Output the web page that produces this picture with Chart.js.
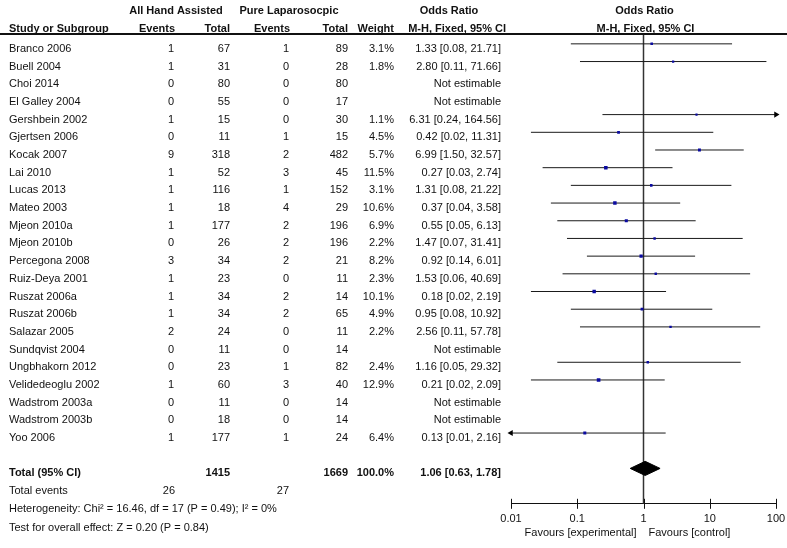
<!DOCTYPE html>
<html>
<head>
<meta charset="utf-8">
<script src="https://cdn.jsdelivr.net/npm/chart.js@4.4.1/dist/chart.umd.min.js"></script>
<style>
    html, body { margin: 0; padding: 0; background: #fff; }
    #wrap { width: 787px; height: 548px; }
</style>
</head>
<body>
<div id="wrap"><canvas id="forest" width="787" height="548"></canvas></div>
<script>
const studies = [
    "Branco 2006", "Buell 2004", "Choi 2014", "El Galley 2004", "Gershbein 2002",
    "Gjertsen 2006", "Kocak 2007", "Lai 2010", "Lucas 2013", "Mateo 2003",
    "Mjeon 2010a", "Mjeon 2010b", "Percegona 2008", "Ruiz-Deya 2001", "Ruszat 2006a",
    "Ruszat 2006b", "Salazar 2005", "Sundqvist 2004", "Ungbhakorn 2012", "Velidedeoglu 2002",
    "Wadstrom 2003a", "Wadstrom 2003b", "Yoo 2006"
];
const haEvents = [1, 1, 0, 0, 1, 0, 9, 1, 1, 1, 1, 0, 3, 1, 1, 1, 2, 0, 0, 1, 0, 0, 1];
const haTotal = [67, 31, 80, 55, 15, 11, 318, 52, 116, 18, 177, 26, 34, 23, 34, 34, 24, 11, 23, 60, 11, 18, 177];
const plEvents = [1, 0, 0, 0, 0, 1, 2, 3, 1, 4, 2, 2, 2, 0, 2, 2, 0, 0, 1, 3, 0, 0, 1];
const plTotal = [89, 28, 80, 17, 30, 15, 482, 45, 152, 29, 196, 196, 21, 11, 14, 65, 11, 14, 82, 40, 14, 14, 24];
const weights = [3.1, 1.8, null, null, 1.1, 4.5, 5.7, 11.5, 3.1, 10.6, 6.9, 2.2, 8.2, 2.3, 10.1, 4.9, 2.2, null, 2.4, 12.9, null, null, 6.4];
const oddsRatio = [1.33, 2.80, null, null, 6.31, 0.42, 6.99, 0.27, 1.31, 0.37, 0.55, 1.47, 0.92, 1.53, 0.18, 0.95, 2.56, null, 1.16, 0.21, null, null, 0.13];
const ciLow = [0.08, 0.11, null, null, 0.24, 0.02, 1.50, 0.03, 0.08, 0.04, 0.05, 0.07, 0.14, 0.06, 0.02, 0.08, 0.11, null, 0.05, 0.02, null, null, 0.01];
const ciHigh = [21.71, 71.66, null, null, 164.56, 11.31, 32.57, 2.74, 21.22, 3.58, 6.13, 31.41, 6.01, 40.69, 2.19, 10.92, 57.78, null, 29.32, 2.09, null, null, 2.16];

const totalHa = 1415;
const totalPl = 1669;
const totalEventsHa = 26;
const totalEventsPl = 27;
const pooledOR = 1.06;
const pooledLow = 0.63;
const pooledHigh = 1.78;
const xTicks = [0.01, 0.1, 1, 10, 100];

const heterogeneityText = "Heterogeneity: Chi\u00b2 = 16.46, df = 17 (P = 0.49); I\u00b2 = 0%";
const overallText = "Test for overall effect: Z = 0.20 (P = 0.84)";

const FONT = '"Liberation Sans", Arial, sans-serif';
const INK = "#111";
const X_MIN = xTicks[0];
const X_MAX = xTicks[xTicks.length - 1];
const TOTAL_ROW = studies.length + 1;

function orText(i) {
    if (oddsRatio[i] == null) return "Not estimable";
    return `${oddsRatio[i].toFixed(2)} [${ciLow[i].toFixed(2)}, ${ciHigh[i].toFixed(2)}]`;
}

// one little line per study for its CI
const ciSets = [];
const arrowPts = [];
studies.forEach((s, i) => {
    if (oddsRatio[i] == null) return;
    const lo = Math.max(ciLow[i], X_MIN);
    const hi = Math.min(ciHigh[i], X_MAX);
    ciSets.push({
        type: "line",
        data: [{ x: lo, y: i }, { x: hi, y: i }],
        borderColor: "#1a1a1a",
        borderWidth: 1,
        pointRadius: 0,
        order: 3,
    });
    if (ciLow[i] <= X_MIN) arrowPts.push({ x: X_MIN, y: i, rot: -90 });
    if (ciHigh[i] >= X_MAX) arrowPts.push({ x: X_MAX, y: i, rot: 90 });
});

const squarePts = [];
studies.forEach((s, i) => {
    if (oddsRatio[i] != null) squarePts.push({ x: oddsRatio[i], y: i, w: weights[i] });
});

const diamondPts = [
    { x: pooledLow, y: TOTAL_ROW },
    { x: pooledOR, y: TOTAL_ROW - 0.4 },
    { x: pooledHigh, y: TOTAL_ROW },
    { x: pooledOR, y: TOTAL_ROW + 0.4 },
    { x: pooledLow, y: TOTAL_ROW },
];

const tablePlugin = {
    id: "forestTable",
    afterDraw(chart) {
        const ctx = chart.ctx;
        const xs = chart.scales.x;
        const ys = chart.scales.y;
        const area = chart.chartArea;
        const rowY = (i) => ys.getPixelForValue(i) + 5;

        function put(text, x, y, align, bold) {
            ctx.font = `${bold ? "bold " : ""}11px ${FONT}`;
            ctx.textAlign = align;
            ctx.fillText(text, x, y);
        }

        ctx.save();
        ctx.fillStyle = INK;
        ctx.textBaseline = "middle";

        // headers
        put("All Hand Assisted", 176, 11, "center", true);
        put("Pure Laparosocpic", 289, 11, "center", true);
        put("Odds Ratio", 449, 11, "center", true);
        put("Odds Ratio", xs.getPixelForValue(1) + 1, 11, "center", true);
        put("Study or Subgroup", 9, 28.5, "left", true);
        put("Events", 175, 28.5, "right", true);
        put("Total", 230, 28.5, "right", true);
        put("Events", 290, 28.5, "right", true);
        put("Total", 348, 28.5, "right", true);
        put("Weight", 394, 28.5, "right", true);
        put("M-H, Fixed, 95% CI", 506, 28.5, "right", true);
        put("M-H, Fixed, 95% CI", xs.getPixelForValue(1) + 2, 28.5, "center", true);
        ctx.fillRect(0, 33, chart.width, 2);

        studies.forEach((s, i) => {
            const y = rowY(i);
            put(s, 9, y, "left");
            put(String(haEvents[i]), 174, y, "right");
            put(String(haTotal[i]), 230, y, "right");
            put(String(plEvents[i]), 289, y, "right");
            put(String(plTotal[i]), 348, y, "right");
            if (weights[i] != null) put(weights[i].toFixed(1) + "%", 394, y, "right");
            put(orText(i), 501, y, "right");
        });

        let y = rowY(TOTAL_ROW);
        put("Total (95% CI)", 9, y, "left", true);
        put(String(totalHa), 230, y, "right", true);
        put(String(totalPl), 348, y, "right", true);
        put("100.0%", 394, y, "right", true);
        put(`${pooledOR.toFixed(2)} [${pooledLow.toFixed(2)}, ${pooledHigh.toFixed(2)}]`, 501, y, "right", true);

        y = rowY(TOTAL_ROW + 1);
        put("Total events", 9, y, "left");
        put(String(totalEventsHa), 175, y, "right");
        put(String(totalEventsPl), 289, y, "right");
        put(heterogeneityText, 9, rowY(TOTAL_ROW + 2), "left");
        put(overallText, 9, rowY(TOTAL_ROW + 3) + 1, "left");

        // tick marks crossing the axis line
        ctx.strokeStyle = "#111";
        ctx.lineWidth = 1;
        xTicks.forEach((v) => {
            const px = Math.round(xs.getPixelForValue(v)) + 0.5;
            ctx.beginPath();
            ctx.moveTo(px, area.bottom - 5);
            ctx.lineTo(px, area.bottom + 5);
            ctx.stroke();
        });

        const one = xs.getPixelForValue(1);
        put("Favours [experimental]", one - 7, 533, "right");
        put("Favours [control]", one + 5, 533, "left");
        ctx.restore();
    },
};

new Chart(document.getElementById("forest"), {
    type: "scatter",
    data: {
        datasets: [
            {
                type: "line",
                data: [{ x: 1, y: -0.5 }, { x: 1, y: 26 }],
                borderColor: "#333",
                borderWidth: 1.5,
                pointRadius: 0,
                order: 4,
            },
            ...ciSets,
            {
                type: "line",
                data: diamondPts,
                borderColor: "#000",
                borderWidth: 1,
                backgroundColor: "#000",
                fill: "shape",
                pointRadius: 0,
                order: 1,
            },
            {
                data: squarePts,
                pointStyle: "rect",
                backgroundColor: "#0a0aa0",
                borderWidth: 0,
                pointRadius: (c) => (1.5 + Math.sqrt(c.raw.w) * 0.6) / Math.SQRT2,
                order: 2,
            },
            {
                data: arrowPts,
                pointStyle: "triangle",
                backgroundColor: "#000",
                borderColor: "#000",
                borderWidth: 0,
                pointRadius: 3.5,
                rotation: (c) => c.raw.rot,
                clip: false,
                order: 2,
            },
        ],
    },
    options: {
        responsive: false,
        animation: false,
        events: [],
        layout: { padding: { left: 511, right: 11, top: 35, bottom: 13 } },
        plugins: { legend: { display: false }, tooltip: { enabled: false } },
        scales: {
            x: {
                type: "logarithmic",
                min: X_MIN,
                max: X_MAX,
                afterBuildTicks: (axis) => {
                    axis.ticks = xTicks.map((v) => ({ value: v }));
                },
                afterFit: (axis) => {
                    axis.paddingLeft = 0;
                    axis.paddingRight = 0;
                },
                grid: { display: false, drawTicks: false },
                border: { display: true, color: "#111", width: 1 },
                ticks: {
                    color: INK,
                    padding: 9,
                    font: { family: FONT, size: 11 },
                    callback: (v) => String(v),
                },
            },
            y: {
                type: "linear",
                display: false,
                reverse: true,
                min: -0.5,
                max: 26,
            },
        },
    },
    plugins: [tablePlugin],
});
</script>
</body>
</html>
